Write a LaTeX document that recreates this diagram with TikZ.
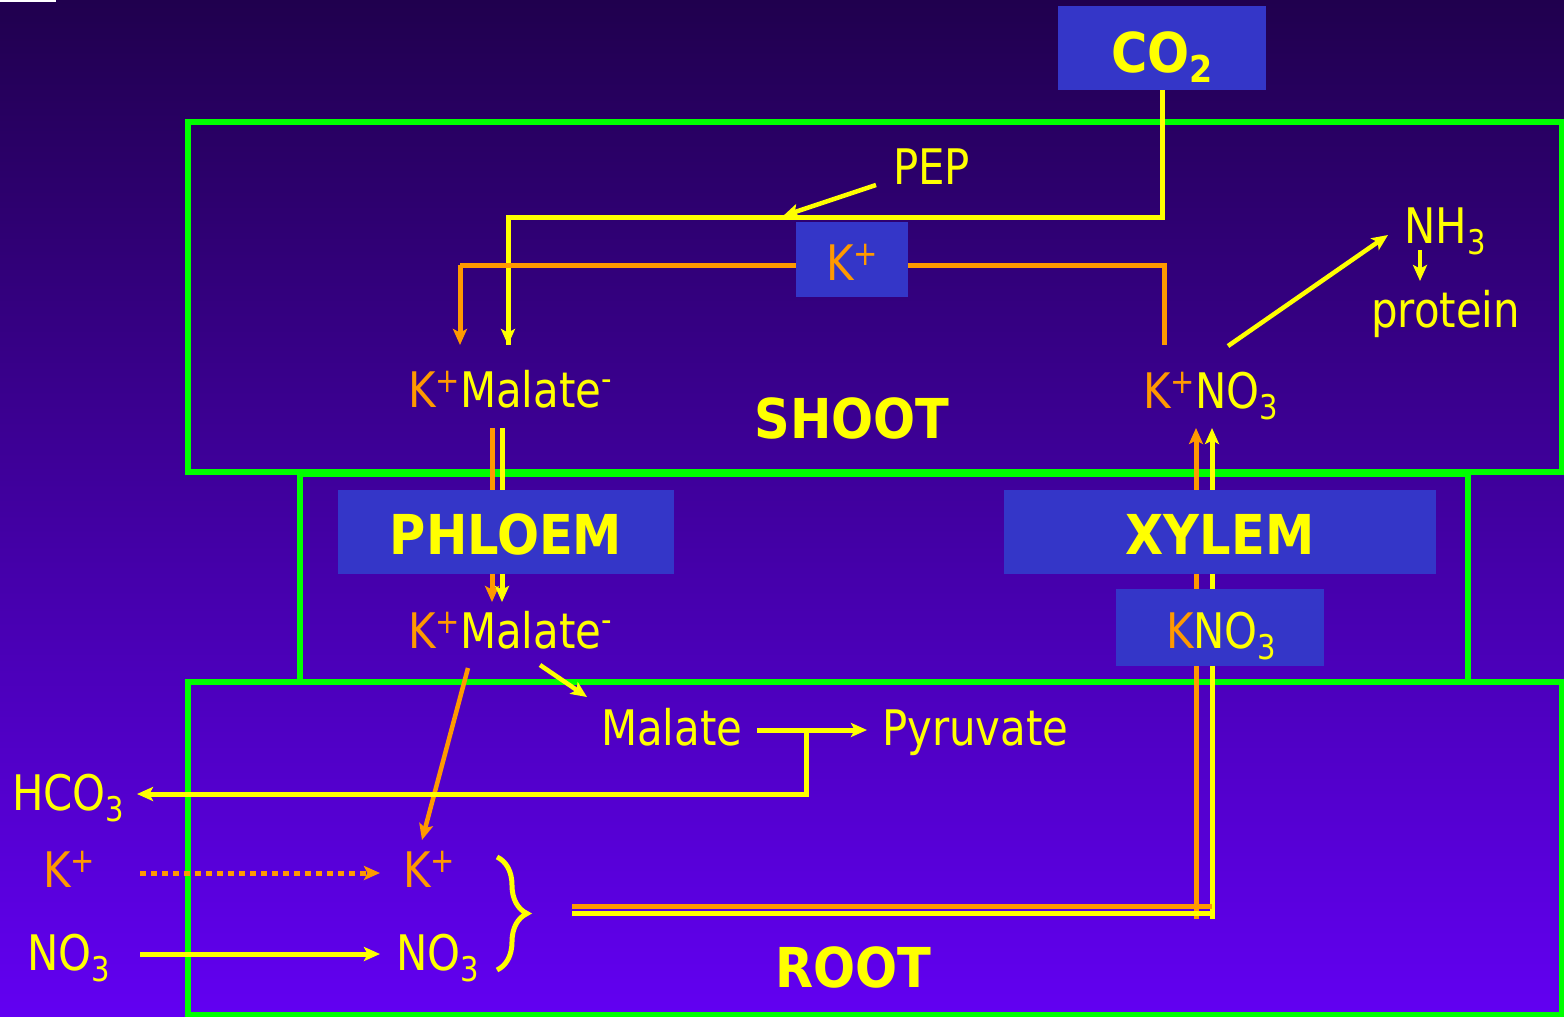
\documentclass[tikz,border=0pt]{standalone}
\usepackage{fontspec}
\setmainfont[FakeStretch=0.95]{DejaVu Sans Condensed}
\newfontfamily\bfam{DejaVu Sans Condensed}
\usetikzlibrary{arrows.meta,decorations.pathreplacing}
\definecolor{kyel}{RGB}{255,255,0}
\definecolor{kor}{RGB}{255,153,0}
\definecolor{kgrn}{RGB}{0,255,0}
\definecolor{kbox}{RGB}{52,54,200}
\definecolor{bgtop}{RGB}{32,0,78}
\definecolor{bgbot}{RGB}{98,0,242}
\newcommand{\Kp}{\textcolor{kor}{K\raisebox{15pt}{\fontsize{34}{34}\selectfont +}}}
\newcommand{\Mneg}{Malate\raisebox{17pt}{\fontsize{34}{34}\selectfont -}}
\newcommand{\subt}[1]{\raisebox{-11pt}{\fontsize{34}{34}\selectfont #1}}
\newcommand{\subb}[1]{\raisebox{-10pt}{\fontsize{37}{37}\selectfont\bfseries #1}}
\begin{document}
\begin{tikzpicture}[x=1pt,y=-1pt,
  lbl/.style={inner sep=0pt,font=\fontsize{49}{49}\selectfont,text=kyel},
  bold/.style={inner sep=0pt,font=\bfam\fontsize{55}{55}\selectfont\bfseries,text=kyel},
  region/.style={draw=kgrn,line width=5.5pt},
  box/.style={fill=kbox,inner sep=0pt},
  yl/.style={draw=kyel,line width=5pt},
  ol/.style={draw=kor,line width=5pt},
  tip/.style={-{Stealth[length=16pt,width=14pt,inset=3.5pt]}}]
\useasboundingbox (0,0) rectangle (1564,1017);
\shade[top color=bgtop,bottom color=bgbot] (0,0) rectangle (1564,1017);
\fill[white] (0,0) rectangle (56,2);
% regions
\draw[region] (188,122) rectangle (1562,472);
\draw[region] (300,474) rectangle (1468,682);
\draw[region] (188,682) rectangle (1562,1015);
% coordinates
\coordinate (c1) at (1162,217);
\coordinate (c2) at (508,217);
\coordinate (malS1) at (508,345);
\coordinate (o1) at (460,265);
\coordinate (malS2) at (460,345);
\coordinate (o2) at (1164,265);
\coordinate (no3S) at (1164,345);
\coordinate (pepS) at (876,185);
\coordinate (pepE) at (783,216);
\coordinate (phTo) at (492,428);
\coordinate (phBo) at (492,602);
\coordinate (phTy) at (502,428);
\coordinate (phBy) at (502,602);
\coordinate (xyTo) at (1196,428);
\coordinate (xyBo) at (1196,919);
\coordinate (xyTy) at (1212,428);
\coordinate (xyBy) at (1212,919);
\coordinate (hoS) at (572,906);
\coordinate (hoE) at (1212,906);
\coordinate (hyS) at (572,913);
\coordinate (hyE) at (1210,913);
\coordinate (kmS) at (468,668);
\coordinate (kmE) at (422,840);
\coordinate (mmS) at (540,665);
\coordinate (mmE) at (587,697);
\coordinate (mpS) at (757,730);
\coordinate (mpE) at (867,730);
\coordinate (br1) at (806,730);
\coordinate (br2) at (806,794);
\coordinate (hcE) at (137,794);
\coordinate (kS) at (140,873);
\coordinate (kE) at (380,873);
\coordinate (nS) at (140,954);
\coordinate (nE) at (380,954);
\coordinate (nhS) at (1228,346);
\coordinate (nhE) at (1388,235);
\coordinate (prS) at (1420,250);
\coordinate (prE) at (1420,281);
\coordinate (bT) at (497,857);
\coordinate (bB) at (497,970);
% boxes
\node[box,minimum width=208pt,minimum height=84pt] (co2) at (1162,48) {};
\node[box,minimum width=112pt,minimum height=75pt] (kbx) at (852,259.5) {};
% connectors
\draw[yl] (co2.south) -- (c1) -- (c2) -- (malS1);
\draw[yl,tip] (c2) -- (malS1);
\draw[ol] (kbx.west |- o1) -- (o1);
\draw[ol,tip] (o1) -- (malS2);
\draw[ol] (kbx.east |- o2) -- (o2) -- (no3S);
\draw[yl,line width=4.5pt,tip] (pepS) -- (pepE);
\draw[ol,tip] (phTo) -- (phBo);
\draw[yl,tip] (phTy) -- (phBy);
\draw[ol,tip] (xyBo) -- (xyTo);
\draw[yl,tip] (xyBy) -- (xyTy);
\draw[ol] (hoS) -- (hoE);
\draw[yl] (hyS) -- (hyE);
\draw[ol,line width=4.5pt,tip] (kmS) -- (kmE);
\draw[yl,line width=4.5pt,tip] (mmS) -- (mmE);
\draw[yl,tip] (mpS) -- (mpE);
\draw[yl,tip] (br1) -- (br2) -- (hcE);
\draw[ol,line width=5pt,dash pattern=on 6pt off 5pt,tip] (kS) -- (kE);
\draw[yl,tip] (nS) -- (nE);
\draw[yl,line width=4.5pt,tip] (nhS) -- (nhE);
\draw[yl,line width=4pt,tip] (prS) -- (prE);
\draw[yl,line width=5pt,decorate,decoration={brace,amplitude=30pt}] (bT) -- (bB);
% boxes over lines
\node[box,minimum width=336pt,minimum height=84pt] (phl) at (506,532) {};
\node[box,minimum width=432pt,minimum height=84pt] (xyl) at (1220,532) {};
\node[box,minimum width=208pt,minimum height=77pt] (kno) at (1220,627.5) {};
% texts
\node[bold,anchor=base] (co2t) at (1162,72) {CO\subb{2}};
\node[lbl,anchor=base] (kbt) at (852,280) {\Kp};
\node[lbl,anchor=base west] (pep) at (893,184) {PEP};
\node[lbl,anchor=base west] (kmal1) at (408,407) {\Kp\Mneg};
\node[bold,anchor=base] (shoot) at (852,438) {SHOOT};
\node[lbl,anchor=base west] (kno3s) at (1143,408) {\Kp NO\subt{3}};
\node[lbl,anchor=base west] (nh3) at (1404,243) {NH\subt{3}};
\node[lbl,anchor=base west] (prot) at (1371,327) {protein};
\node[bold,anchor=base] (phlt) at (506,554) {PHLOEM};
\node[bold,anchor=base] (xylt) at (1220,554) {XYLEM};
\node[lbl,anchor=base west] (kmal2) at (408,648) {\Kp\Mneg};
\node[lbl,anchor=base west] (knot) at (1166,648) {\textcolor{kor}{K}NO\subt{3}};
\node[lbl,anchor=base west] (malr) at (601,745) {Malate};
\node[lbl,anchor=base west] (pyr) at (882,745) {Pyruvate};
\node[lbl,anchor=base west] (hco) at (12,810) {HCO\subt{3}};
\node[lbl,anchor=base west] (kl) at (43,887) {\Kp};
\node[lbl,anchor=base west] (kr) at (403,887) {\Kp};
\node[lbl,anchor=base west] (nl) at (27,970) {NO\subt{3}};
\node[lbl,anchor=base west] (nr) at (396,970) {NO\subt{3}};
\node[bold,anchor=base] (root) at (853,987) {ROOT};
\end{tikzpicture}
\end{document}
